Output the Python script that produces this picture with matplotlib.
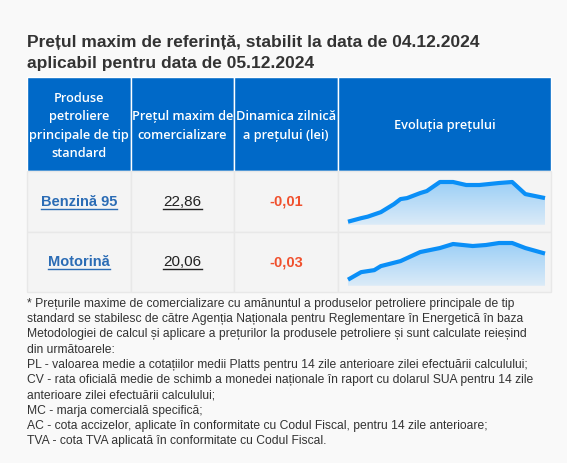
import matplotlib.pyplot as plt
from matplotlib.patches import Rectangle
from matplotlib.colors import LinearSegmentedColormap
import numpy as np

# date
title_lines = ["Prețul maxim de referință, stabilit la data de 04.12.2024",
               "aplicabil pentru data de 05.12.2024"]
headers = ["Produse\npetroliere\nprincipale de tip\nstandard",
           "Prețul maxim de\ncomercializare",
           "Dinamica zilnică\na prețului (lei)",
           "Evoluția prețului"]
products = ["Benzină 95", "Motorină"]
prices = ["22,86", "20,06"]
changes = ["-0,01", "-0,03"]

benzina_days = [0, 2, 3, 5, 7, 8, 9, 11, 12, 14, 16, 18, 20, 23, 25, 27, 30]
benzina_vals = [22.39, 22.46, 22.49, 22.58, 22.74, 22.84, 22.86, 22.96, 23.00,
                23.18, 23.18, 23.12, 23.12, 23.16, 23.18, 22.94, 22.86]
motorina_days = [0, 2, 4, 5, 8, 9, 11, 14, 16, 19, 21, 23, 25, 27, 30]
motorina_vals = [19.54, 19.69, 19.73, 19.81, 19.91, 19.97, 20.09, 20.17, 20.25,
                 20.21, 20.23, 20.27, 20.27, 20.17, 20.06]
spark_days = [benzina_days, motorina_days]
spark_vals = [benzina_vals, motorina_vals]
spark_ylim = [(22.33, 23.18), (19.42, 20.27)]

footnote = [
    "* Prețurile maxime de comercializare cu amănuntul a produselor petroliere principale de tip",
    "standard se stabilesc de către Agenția Naționala pentru Reglementare în Energetică în baza",
    "Metodologiei de calcul și aplicare a prețurilor la produsele petroliere și sunt calculate reieșind",
    "din următoarele:",
    "PL - valoarea medie a cotațiilor medii Platts pentru 14 zile anterioare zilei efectuării calculului;",
    "CV - rata oficială medie de schimb a monedei naționale în raport cu dolarul SUA pentru 14 zile",
    "anterioare zilei efectuării calculului;",
    "MC - marja comercială specifică;",
    "AC - cota accizelor, aplicate în conformitate cu Codul Fiscal, pentru 14 zile anterioare;",
    "TVA - cota TVA aplicată în conformitate cu Codul Fiscal.",
]

W, H = 567, 464
fig = plt.figure(figsize=(W / 100, H / 100), dpi=100)
fig.patch.set_facecolor("#f9f9f9")

ax = fig.add_axes([0, 0, 1, 1])
ax.set_xlim(0, W)
ax.set_ylim(H, 0)
ax.axis("off")

# titlu
for i, line in enumerate(title_lines):
    ax.text(27, 47 + i * 21, line, fontsize=12.5, fontweight="bold", color="#333333",
            family="Liberation Sans", va="baseline")

# tabel
col_x = [27, 131, 234, 338, 551]
row_y = [78, 172, 233, 293]
blue = "#0069c8"
for c in range(4):
    ax.add_patch(Rectangle((col_x[c], row_y[0]), col_x[c + 1] - col_x[c], row_y[1] - row_y[0],
                           facecolor=blue, edgecolor="white", lw=1))
    for r in range(1, 3):
        ax.add_patch(Rectangle((col_x[c], row_y[r]), col_x[c + 1] - col_x[c], row_y[r + 1] - row_y[r],
                               facecolor="#f4f4f4", edgecolor="#e8e8e8", lw=1))

for c, h in enumerate(headers):
    ax.text((col_x[c] + col_x[c + 1]) / 2, 126, h, ha="center", va="center", color="white",
            fontsize=9.2, fontweight="semibold", family="Open Sans", linespacing=1.55)

fig.canvas.draw()
renderer = fig.canvas.get_renderer()


def underlined(x, y, s, color, ucolor, **kw):
    t = ax.text(x, y, s, ha="center", va="center", color=color, **kw)
    bb = t.get_window_extent(renderer).transformed(ax.transData.inverted())
    ax.plot([bb.x0, bb.x1], [y + 7.5, y + 7.5], color=ucolor, lw=1)


for r in range(2):
    yc = (row_y[r + 1] + row_y[r + 2]) / 2 - 0.5
    underlined((col_x[0] + col_x[1]) / 2, yc, products[r], "#2b6cb5", "#2b6cb5",
               fontsize=10.5, fontweight="bold", family="Liberation Sans")
    underlined((col_x[1] + col_x[2]) / 2, yc, prices[r], "#222222", "#222222",
               fontsize=11, family="Liberation Sans")
    ax.text((col_x[2] + col_x[3]) / 2, yc, changes[r], ha="center", va="center",
            color="#f0502d", fontsize=10.5, fontweight="bold", family="Liberation Sans")

# grafice
cmap = LinearSegmentedColormap.from_list("fill", ["#dbebf8", "#9ccff6"])
spark_top = [183, 244]
spark_bot = [225.7, 286.7]
for r in range(2):
    sa = fig.add_axes([348 / W, 1 - spark_bot[r] / H, 197 / W, (spark_bot[r] - spark_top[r]) / H])
    sa.axis("off")
    lo, hi = spark_ylim[r]
    sa.set_xlim(0, 30)
    sa.set_ylim(lo, hi)
    poly = sa.fill_between(spark_days[r], spark_vals[r], lo, facecolor="none", lw=0)
    grad = np.linspace(0, 1, 100).reshape(-1, 1)
    img = sa.imshow(grad, extent=[0, 30, lo, hi], origin="lower", aspect="auto", cmap=cmap)
    img.set_clip_path(poly.get_paths()[0], transform=sa.transData)
    sa.plot(spark_days[r], spark_vals[r], color="#0a8ff7", lw=3, clip_on=False,
            solid_joinstyle="round", solid_capstyle="butt")

# nota
for i, line in enumerate(footnote):
    ax.text(27, 304 + i * 15.25, line, fontsize=8.75, color="#333333",
            family="Liberation Sans", va="center")

fig.savefig("out.png", dpi=100, facecolor=fig.get_facecolor())
